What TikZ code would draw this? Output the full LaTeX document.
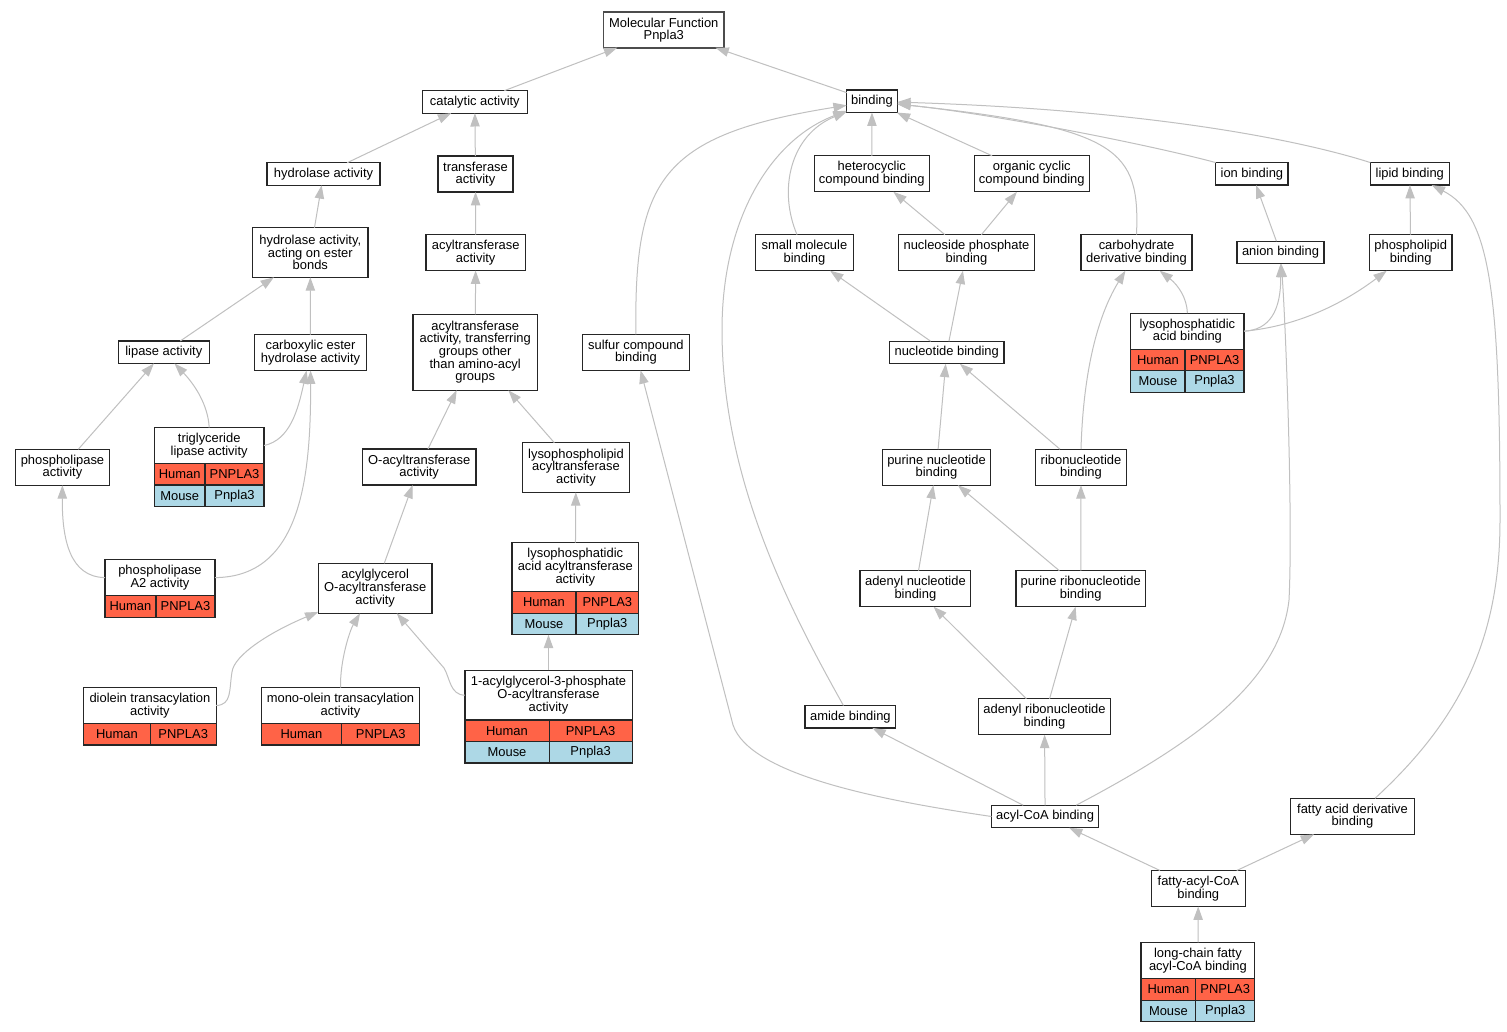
\documentclass[tikz,border=0pt]{standalone}
\usepackage{fontspec}
\setmainfont{Liberation Sans}
\usepackage{pgf,tikz}
\usetikzlibrary{arrows.meta}
\definecolor{humred}{HTML}{FF6347}
\definecolor{mouseblue}{HTML}{ADD8E6}
\definecolor{edgegray}{HTML}{C0C0C0}

\begin{document}
\begin{tikzpicture}[x=0.75pt,y=-0.75pt,
  box/.style={draw=black!85,line width=0.9pt,fill=white,align=center,inner sep=0pt,outer sep=0pt,font=\fontsize{9.7}{9.5}\selectfont},
  wh/.style 2 args={minimum width=#1*0.75pt,minimum height=#2*0.75pt},
  hum/.style={box,fill=humred,anchor=north west},
  mou/.style={box,fill=mouseblue,anchor=north west},
  edge/.style={draw=edgegray,line width=0.75pt,-{Triangle[length=10pt,width=7pt]}}]
\useasboundingbox (0,0) rectangle (1507,1032);
\fill[white] (0,0) rectangle (1507,1032);

\draw (663.8,30) node[box,wh={120.5}{35.4},draw=black!70,line width=1.3pt] (mf) {Molecular Function\\Pnpla3};
\draw (474.8,101.9) node[box,wh={105}{22.5}] (cat) {catalytic activity};
\draw (872,101.3) node[box,wh={50.6}{22.5}] (bind) {binding};
\draw (323.5,174) node[box,wh={113}{22.5}] (hydro) {hydrolase activity};
\draw (475.5,174) node[box,wh={75}{36}] (trans) {transferase\\activity};
\draw (871.8,173.8) node[box,wh={115}{36}] (hetcyc) {heterocyclic\\compound binding};
\draw (1031.8,173.8) node[box,wh={115}{36}] (orgcyc) {organic cyclic\\compound binding};
\draw (1251.9,173.8) node[box,wh={72.3}{22.5}] (ion) {ion binding};
\draw (1409.8,173.8) node[box,wh={79}{22.5}] (lipid) {lipid binding};
\draw (310.3,252.5) node[box,wh={115.3}{49.6}] (hydest) {hydrolase activity,\\acting on ester\\bonds};
\draw (475.7,252.5) node[box,wh={99.3}{36}] (acyl) {acyltransferase\\activity};
\draw (804.5,252.7) node[box,wh={97.6}{36}] (smol) {small molecule\\binding};
\draw (966.5,252.7) node[box,wh={136.4}{36}] (nucphos) {nucleoside phosphate\\binding};
\draw (1136.5,252.7) node[box,wh={111}{36}] (carbder) {carbohydrate\\derivative binding};
\draw (1280.5,252.5) node[box,wh={87}{22.5}] (anion) {anion binding};
\draw (1410.7,252.7) node[box,wh={82.7}{36}] (phlip) {phospholipid\\binding};
\draw (163.8,352.2) node[box,wh={91}{22.5}] (lipase) {lipase activity};
\draw (310.5,352.5) node[box,wh={112.4}{36}] (carbest) {carboxylic ester\\hydrolase activity};
\draw (475.2,352.3) node[box,wh={124.3}{76}] (acylother) {acyltransferase\\activity, transferring\\groups other\\than amino-acyl\\groups};
\draw (635.9,352.3) node[box,wh={106.8}{36}] (sulfur) {sulfur compound\\binding};
\draw (946.7,352.5) node[box,wh={114.7}{22.5}] (nucl) {nucleotide binding};
\draw (1187.4,331.2) node[box,wh={113.3}{36}] (lpab) {lysophosphatidic\\acid binding};
\draw (lpab.south west) node[hum,wh={54.3}{21.5}] (lpab-h) {Human};
\draw (lpab-h.north east) node[hum,wh={59}{21.5}] (lpab-hg) {PNPLA3};
\draw (lpab-h.south west) node[mou,wh={54.3}{21.5}] (lpab-m) {Mouse};
\draw (lpab-m.north east) node[mou,wh={59}{21.5}] (lpab-mg) {Pnpla3};
\draw (209.2,445.5) node[box,wh={109.7}{36}] (tgl) {triglyceride\\lipase activity};
\draw (tgl.south west) node[hum,wh={50.7}{21.5}] (tgl-h) {Human};
\draw (tgl-h.north east) node[hum,wh={59}{21.5}] (tgl-hg) {PNPLA3};
\draw (tgl-h.south west) node[mou,wh={50.7}{21.5}] (tgl-m) {Mouse};
\draw (tgl-m.north east) node[mou,wh={59}{21.5}] (tgl-mg) {Pnpla3};
\draw (62.5,467.2) node[box,wh={93.6}{36}] (phlipase) {phospholipase\\activity};
\draw (419.2,467) node[box,wh={113.7}{36}] (oacyl) {O-acyltransferase\\activity};
\draw (576,467.5) node[box,wh={106.6}{49.6}] (lysopl) {lysophospholipid\\acyltransferase\\activity};
\draw (936.5,467.2) node[box,wh={108.4}{36}] (purnuc) {purine nucleotide\\binding};
\draw (1081,467.2) node[box,wh={91.4}{36}] (ribonuc) {ribonucleotide\\binding};
\draw (160,577.6) node[box,wh={110}{36}] (pla) {phospholipase\\A2 activity};
\draw (pla.south west) node[hum,wh={51}{21.5}] (pla-h) {Human};
\draw (pla-h.north east) node[hum,wh={59}{21.5}] (pla-hg) {PNPLA3};
\draw (375.2,588.3) node[box,wh={113.7}{50}] (agoat) {acylglycerol\\O-acyltransferase\\activity};
\draw (575.3,567.2) node[box,wh={126.6}{49}] (lpaat) {lysophosphatidic\\acid acyltransferase\\activity};
\draw (lpaat.south west) node[hum,wh={64}{21.5}] (lpaat-h) {Human};
\draw (lpaat-h.north east) node[hum,wh={62.6}{21.5}] (lpaat-hg) {PNPLA3};
\draw (lpaat-h.south west) node[mou,wh={64}{21.5}] (lpaat-m) {Mouse};
\draw (lpaat-m.north east) node[mou,wh={62.6}{21.5}] (lpaat-mg) {Pnpla3};
\draw (915.4,588.7) node[box,wh={110.9}{36}] (adnuc) {adenyl nucleotide\\binding};
\draw (1080.7,588.7) node[box,wh={129.4}{36}] (purribo) {purine ribonucleotide\\binding};
\draw (149.9,705.5) node[box,wh={132.4}{36}] (diol) {diolein transacylation\\activity};
\draw (diol.south west) node[hum,wh={66.6}{21.5}] (diol-h) {Human};
\draw (diol-h.north east) node[hum,wh={65.8}{21.5}] (diol-hg) {PNPLA3};
\draw (340.5,705.5) node[box,wh={158.4}{36}] (mono) {mono-olein transacylation\\activity};
\draw (mono.south west) node[hum,wh={80.4}{21.5}] (mono-h) {Human};
\draw (mono-h.north east) node[hum,wh={78}{21.5}] (mono-hg) {PNPLA3};
\draw (548.5,695.2) node[box,wh={167.2}{49.6}] (agpat) {1-acylglycerol-3-phosphate\\O-acyltransferase\\activity};
\draw (agpat.south west) node[hum,wh={84.2}{21.5}] (agpat-h) {Human};
\draw (agpat-h.north east) node[hum,wh={83}{21.5}] (agpat-hg) {PNPLA3};
\draw (agpat-h.south west) node[mou,wh={84.2}{21.5}] (agpat-m) {Mouse};
\draw (agpat-m.north east) node[mou,wh={83}{21.5}] (agpat-mg) {Pnpla3};
\draw (850.4,716.7) node[box,wh={90.8}{22.5}] (amide) {amide binding};
\draw (1044.5,716.7) node[box,wh={132}{36}] (adribo) {adenyl ribonucleotide\\binding};
\draw (1045.1,816.5) node[box,wh={107.2}{22.5}] (acylcoa) {acyl-CoA binding};
\draw (1352.5,816.3) node[box,wh={124.4}{36}] (fadb) {fatty acid derivative\\binding};
\draw (1198.3,888.5) node[box,wh={94}{36}] (facoa) {fatty-acyl-CoA\\binding};
\draw (1197.9,960.5) node[box,wh={113.7}{36.4}] (lcfa) {long-chain fatty\\acyl-CoA binding};
\draw (lcfa.south west) node[hum,wh={54.7}{21.5}] (lcfa-h) {Human};
\draw (lcfa-h.north east) node[hum,wh={59}{21.5}] (lcfa-hg) {PNPLA3};
\draw (lcfa-h.south west) node[mou,wh={54.7}{21.5}] (lcfa-m) {Mouse};
\draw (lcfa-m.north east) node[mou,wh={59}{21.5}] (lcfa-mg) {Pnpla3};

\draw[edge] (cat) -- (mf);
\draw[edge] (bind) -- (mf);
\draw[edge] (hydro) -- (cat);
\draw[edge] (trans) -- (cat);
\draw[edge] (hydest) -- (hydro);
\draw[edge] (acyl) -- (trans);
\draw[edge] (acylother) -- (acyl);
\draw[edge] (lipase) -- (hydest);
\draw[edge] (carbest) -- (hydest);
\draw[edge] (phlipase) -- (lipase);
\draw[edge] (tgl.north) .. controls (208,405) and (195,385) .. (lipase);
\draw[edge] (tgl.east) .. controls (290,440) and (298,410) .. (carbest);
\draw[edge] (pla.west) .. controls (70,577) and (62,540) .. (phlipase);
\draw[edge] (pla.east) .. controls (300,577) and (311,480) .. (carbest);
\draw[edge] (oacyl) -- (acylother);
\draw[edge] (lysopl) -- (acylother);
\draw[edge] (agoat) -- (oacyl);
\draw[edge] (lpaat) -- (lysopl);
\draw[edge] (diol.east) .. controls (232,705) and (229,690) .. (232,672) .. controls (234,655) and (270,632) .. (agoat);
\draw[edge] (mono.north) .. controls (340,660) and (350,630) .. (agoat);
\draw[edge] (agpat.west) .. controls (450,695) and (450,678) .. (444,668) -- (agoat);
\draw[edge] (agpat.north) -- (agpat.north |- lpaat-m.south);
\draw[edge] (sulfur.north) .. controls (634,180) and (660,135) .. (bind);
\draw[edge] ([xshift=-5.6pt]smol.north) .. controls (778,190) and (790,135) .. (bind);
\draw[edge] (hetcyc) -- (bind);
\draw[edge] (orgcyc) -- (bind);
\draw[edge] (carbder.north) .. controls (1140,150) and (1120,128) .. (bind);
\draw[edge] (ion.north west) .. controls (1150,145) and (1000,115) .. (bind);
\draw[edge] (lipid.north west) .. controls (1300,140) and (1150,110) .. (bind);
\draw[edge] ([xshift=-5.25pt]amide.north) .. controls (790,610) and (722,480) .. (722,330) .. controls (722,220) and (770,140) .. (bind);
\draw[edge] (nucphos) -- (hetcyc);
\draw[edge] (nucphos) -- (orgcyc);
\draw[edge] (nucl) -- (smol);
\draw[edge] (nucl) -- (nucphos);
\draw[edge] (lpab.north) .. controls (1187,298) and (1178,285) .. (carbder);
\draw[edge] (lpab.east) .. controls (1270,330) and (1281,310) .. (anion);
\draw[edge] (lpab.east) .. controls (1300,326) and (1345,302) .. (phlip);
\draw[edge] (anion) -- (ion);
\draw[edge] (phlip) -- (lipid);
\draw[edge] (purnuc) -- (nucl);
\draw[edge] (ribonuc) -- (nucl);
\draw[edge] (ribonuc.north) .. controls (1083,380) and (1095,320) .. (carbder);
\draw[edge] (adnuc) -- (purnuc);
\draw[edge] (purribo) -- (purnuc);
\draw[edge] (purribo) -- (ribonuc);
\draw[edge] (adribo) -- (adnuc);
\draw[edge] (adribo) -- (purribo);
\draw[edge] (acylcoa) -- (amide);
\draw[edge] (acylcoa) -- (adribo);
\draw[edge] (acylcoa.west) .. controls (880,800) and (750,775) .. (733,725) -- (sulfur);
\draw[edge] ([xshift=23.25pt]acylcoa.north) .. controls (1200,740) and (1280,680) .. (1289,600) .. controls (1293,520) and (1286,330) .. (anion);
\draw[edge] (facoa) -- (acylcoa);
\draw[edge] (facoa) -- (fadb);
\draw[edge] ([xshift=16.9pt]fadb.north) .. controls (1460,720) and (1500,640) .. (1500,520) .. controls (1500,290) and (1490,215) .. (lipid);
\draw[edge] (lcfa) -- (facoa);
\end{tikzpicture}
\end{document}
